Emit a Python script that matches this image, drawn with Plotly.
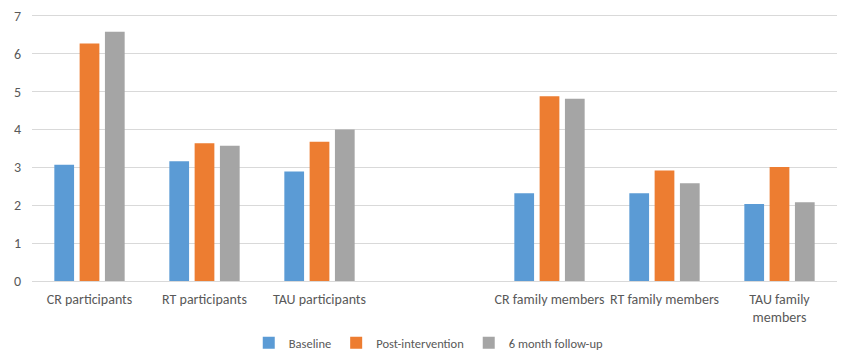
import plotly.graph_objects as go

categories = ["CR participants", "RT participants", "TAU participants", " ",
              "CR family members", "RT family members", "TAU family<br>members"]
baseline = [3.07, 3.16, 2.89, None, 2.32, 2.32, 2.03]
post_intervention = [6.27, 3.64, 3.68, None, 4.88, 2.92, 3.01]
follow_up_6m = [6.58, 3.57, 4.00, None, 4.81, 2.58, 2.08]

series = [
    ("Baseline", baseline, "#5B9BD5"),
    ("Post-intervention", post_intervention, "#ED7D31"),
    ("6 month follow-up", follow_up_6m, "#A5A5A5"),
]

fig = go.Figure()
for name, vals, color in series:
    fig.add_trace(go.Bar(x=categories, y=vals, name=name, marker_color=color,
                         marker_line_width=0))

# page body has an 8px margin, so margins are offset to place the plot area
font_family = "Carlito, Liberation Sans Narrow, Liberation Sans, Arial, sans-serif"
fig.update_layout(
    width=850, height=361,
    margin=dict(l=24, r=21, t=6, b=88, autoexpand=False),
    paper_bgcolor="white", plot_bgcolor="white",
    barmode="group", bargap=0.34, bargroupgap=0.22,
    font=dict(family=font_family, size=14, color="#595959"),
    showlegend=True,
    legend=dict(orientation="h", x=0.495, xanchor="center", xref="container",
                y=0.072, yanchor="middle", yref="container",
                font=dict(size=12.5, color="#595959"), itemwidth=30, tracegroupgap=0),
    xaxis=dict(type="category", categoryorder="array", categoryarray=categories,
               automargin=False,
               showgrid=False, showline=True, linecolor="#D9D9D9", linewidth=1,
               ticks="outside", ticklen=5, tickcolor="rgba(0,0,0,0)",
               tickfont=dict(size=14, color="#595959")),
    yaxis=dict(range=[0, 7.05], tickmode="linear", tick0=0, dtick=1,
               showgrid=True, gridcolor="#D9D9D9", gridwidth=1,
               automargin=False, ticklabeloverflow="allow",
               zeroline=False, showline=False,
               ticks="outside", ticklen=7, tickcolor="rgba(0,0,0,0)",
               tickfont=dict(size=14, color="#595959")),
)

fig.write_html("out.html")
